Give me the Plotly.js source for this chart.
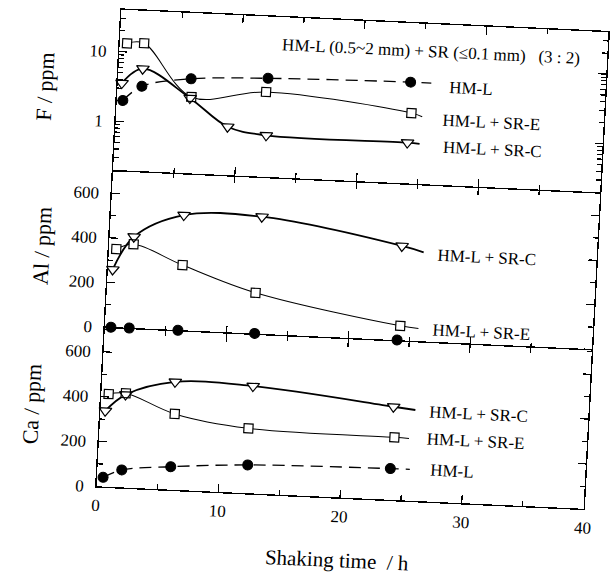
<!DOCTYPE html>
<html>
<head>
<meta charset="utf-8">
<script src="https://cdn.plot.ly/plotly-3.0.1.min.js"></script>
<style>
  html, body { margin: 0; padding: 0; background: #ffffff; overflow: hidden; }
  #chart { width: 615px; height: 581px; transform-origin: 0 0;
           transform: matrix(1, 0.0462, -0.05241, 0.99895, 12.548, -15.311); }
</style>
</head>
<body>
<div id="chart"></div>
<script>
// ---- Data (shaking time in h) ----
const timeHML = [0.5, 2, 6, 12.3, 24];
const timeSRE = [0.6, 2, 6.1, 12.2, 24.2];
const timeSRC = [0.4, 2, 6, 12.4, 24];
const timeSRC_F = [0.35, 2, 6, 9.2, 12.4, 24];

// F / ppm
const fHML = [2.0, 3.3, 4.55, 5.2, 5.7];
const fSRE = [13.3, 13.7, 2.5, 3.3, 2.05];
const fSRC = [3.55, 5.9, 2.4, 0.99, 0.79, 0.77];
// Al / ppm
const alHML = [0, 0, 0, 2, 2];
const alSRE = [351, 376, 293, 184, 66];
const alSRC = [259, 410, 517, 526, 424];
// Ca / ppm
const caHML = [41, 78, 102, 126, 139];
const caSRE = [413, 420, 338, 289, 279];
const caSRC = [338, 414, 481, 478, 415];

// curve tails that run on past the last point toward the labels
const fTailT = [25.7, 25.1, 25.0];   const fTailV = [5.7, 1.85, 0.75];   // HML, SRE, SRC
const alTailT = [25.7, 25.8];        const alTailV = [58, 400];          // SRE, SRC
const caTailT = [25.6, 25.4, 25.8];  const caTailV = [140, 277, 405];    // HML, SRE, SRC

const seriesLabels = ['HM-L', 'HM-L + SR-E', 'HM-L + SR-C'];
const headerText = 'HM-L (0.5~2 mm) + SR (\u22640.1 mm)\u00a0\u00a0\u00a0(3 : 2)';

const FONT = 'Liberation Serif, "Times New Roman", serif';

function curve(x, y, tx, ty, xa, ya, kind) {
  const st = {
    hml: {width: 1.3, dash: '12px,7px'},
    sre: {width: 1.0, dash: 'solid'},
    src: {width: 1.8, dash: 'solid'}
  }[kind];
  return {x: x.concat([tx]), y: y.concat([ty]), xaxis: xa, yaxis: ya,
    mode: 'lines', line: {color: 'black', width: st.width, dash: st.dash, shape: 'spline', smoothing: 1},
    hoverinfo: 'skip', showlegend: false};
}
function fill(x, y, xa, ya, kind) {
  return {x: x, y: y, xaxis: xa, yaxis: ya, mode: 'markers', hoverinfo: 'skip', showlegend: false, cliponaxis: false,
    marker: {symbol: kind === 'sre' ? 'square' : 'triangle-down', size: kind === 'sre' ? 9 : 11, color: 'white'}};
}
function marks(x, y, xa, ya, kind) {
  const m = {
    hml: {symbol: 'circle', size: 10, color: 'black', line: {color: 'black', width: 1}},
    sre: {symbol: 'square-open', size: 9, color: 'black', line: {color: 'black', width: 1.2}},
    src: {symbol: 'triangle-down-open', size: 11, color: 'black', line: {color: 'black', width: 1.2}}
  }[kind];
  return {x: x, y: y, xaxis: xa, yaxis: ya, mode: 'markers', marker: m, cliponaxis: false, showlegend: false};
}

const data = [
  // F panel
  curve(timeHML, fHML, fTailT[0], fTailV[0], 'x3', 'y3', 'hml'),
  curve(timeSRE, fSRE, fTailT[1], fTailV[1], 'x3', 'y3', 'sre'),
  curve(timeSRC_F, fSRC, fTailT[2], fTailV[2], 'x3', 'y3', 'src'),
  fill(timeSRE, fSRE, 'x3', 'y3', 'sre'),
  fill(timeSRC_F, fSRC, 'x3', 'y3', 'src'),
  marks(timeHML, fHML, 'x3', 'y3', 'hml'),
  marks(timeSRE, fSRE, 'x3', 'y3', 'sre'),
  marks(timeSRC_F, fSRC, 'x3', 'y3', 'src'),
  // Al panel
  curve(timeSRE, alSRE, alTailT[0], alTailV[0], 'x2', 'y2', 'sre'),
  curve(timeSRC, alSRC, alTailT[1], alTailV[1], 'x2', 'y2', 'src'),
  fill(timeSRE, alSRE, 'x2', 'y2', 'sre'),
  fill(timeSRC, alSRC, 'x2', 'y2', 'src'),
  marks(timeHML, alHML, 'x2', 'y2', 'hml'),
  marks(timeSRE, alSRE, 'x2', 'y2', 'sre'),
  marks(timeSRC, alSRC, 'x2', 'y2', 'src'),
  // Ca panel
  curve(timeHML, caHML, caTailT[0], caTailV[0], 'x', 'y', 'hml'),
  curve(timeSRE, caSRE, caTailT[1], caTailV[1], 'x', 'y', 'sre'),
  curve(timeSRC, caSRC, caTailT[2], caTailV[2], 'x', 'y', 'src'),
  fill(timeSRE, caSRE, 'x', 'y', 'sre'),
  fill(timeSRC, caSRC, 'x', 'y', 'src'),
  marks(timeHML, caHML, 'x', 'y', 'hml'),
  marks(timeSRE, caSRE, 'x', 'y', 'sre'),
  marks(timeSRC, caSRC, 'x', 'y', 'src')
];

const axisBase = {
  showline: true, linecolor: 'black', linewidth: 1.4, mirror: 'ticks',
  ticks: 'inside', ticklen: 8, tickwidth: 1.2, tickcolor: 'black',
  showgrid: false, zeroline: false, fixedrange: true
};
function xAxis(anchor, labels, lw) {
  return Object.assign({}, axisBase, {
    anchor: anchor, domain: [0, 1], range: [0, 40], dtick: 10, tick0: 0,
    linewidth: lw,
    showticklabels: labels, ticklabelstandoff: 3,
    minor: {dtick: 5, ticks: 'inside', ticklen: 5, tickwidth: 1.2, tickcolor: 'black'}
  });
}
const fMinor = [0.3, 0.4, 0.5, 0.6, 0.7, 0.8, 0.9, 2, 3, 4, 5, 6, 7, 8, 9, 20, 30];

const layout = {
  width: 615, height: 581,
  margin: {l: 110, r: 18, t: 20, b: 84},
  paper_bgcolor: 'white', plot_bgcolor: 'white',
  showlegend: false,
  font: {family: FONT, size: 17, color: 'black'},
  xaxis: Object.assign(xAxis('y', true, 1.4), {
    title: {text: 'Shaking time\u00a0 / h', font: {size: 21}, standoff: 27}
  }),
  xaxis2: xAxis('y2', false, 0.01),
  xaxis3: xAxis('y3', false, 1.4),
  yaxis: Object.assign({}, axisBase, {
    domain: [0, 0.332], range: [0, 706], dtick: 200, tick0: 0, ticklabelstandoff: 8,
    minor: {dtick: 100, ticks: 'inside', ticklen: 5, tickwidth: 1.2, tickcolor: 'black'},
    title: {text: 'Ca / ppm', font: {size: 22}, standoff: 16}
  }),
  yaxis2: Object.assign({}, axisBase, {
    domain: [0.332, 0.664], range: [-5, 705], dtick: 200, tick0: 0, ticklabelstandoff: 8,
    minor: {dtick: 100, ticks: 'inside', ticklen: 5, tickwidth: 1.2, tickcolor: 'black'},
    title: {text: 'Al / ppm', font: {size: 22}, standoff: 14}
  }),
  yaxis3: Object.assign({}, axisBase, {
    domain: [0.664, 1], type: 'log', range: [Math.log10(0.2), Math.log10(40)],
    tickmode: 'array', tickvals: [1, 10], ticktext: ['1', '10'], ticklabelstandoff: 8,
    minor: {tickmode: 'array', tickvals: fMinor, ticks: 'inside', ticklen: 5, tickwidth: 1.2, tickcolor: 'black'},
    title: {text: 'F / ppm', font: {size: 22}, standoff: 28}
  }),
  annotations: [
    {text: headerText, xref: 'paper', yref: 'paper', x: 0.3285, y: 0.9415, xanchor: 'left', yanchor: 'middle', showarrow: false, font: {size: 17}},
    {text: seriesLabels[0], xref: 'paper', yref: 'paper', x: 0.675, y: 0.870, xanchor: 'left', yanchor: 'middle', showarrow: false},
    {text: seriesLabels[1], xref: 'paper', yref: 'paper', x: 0.666, y: 0.800, xanchor: 'left', yanchor: 'middle', showarrow: false},
    {text: seriesLabels[2], xref: 'paper', yref: 'paper', x: 0.669, y: 0.744, xanchor: 'left', yanchor: 'middle', showarrow: false},
    {text: seriesLabels[2], xref: 'paper', yref: 'paper', x: 0.6685, y: 0.517, xanchor: 'left', yanchor: 'middle', showarrow: false},
    {text: seriesLabels[1], xref: 'paper', yref: 'paper', x: 0.668, y: 0.359, xanchor: 'left', yanchor: 'middle', showarrow: false},
    {text: seriesLabels[2], xref: 'paper', yref: 'paper', x: 0.6696, y: 0.188, xanchor: 'left', yanchor: 'middle', showarrow: false},
    {text: seriesLabels[1], xref: 'paper', yref: 'paper', x: 0.668, y: 0.132, xanchor: 'left', yanchor: 'middle', showarrow: false},
    {text: seriesLabels[0], xref: 'paper', yref: 'paper', x: 0.678, y: 0.066, xanchor: 'left', yanchor: 'middle', showarrow: false}
  ]
};

Plotly.newPlot('chart', data, layout, {displayModeBar: false, staticPlot: true});
</script>
</body>
</html>
